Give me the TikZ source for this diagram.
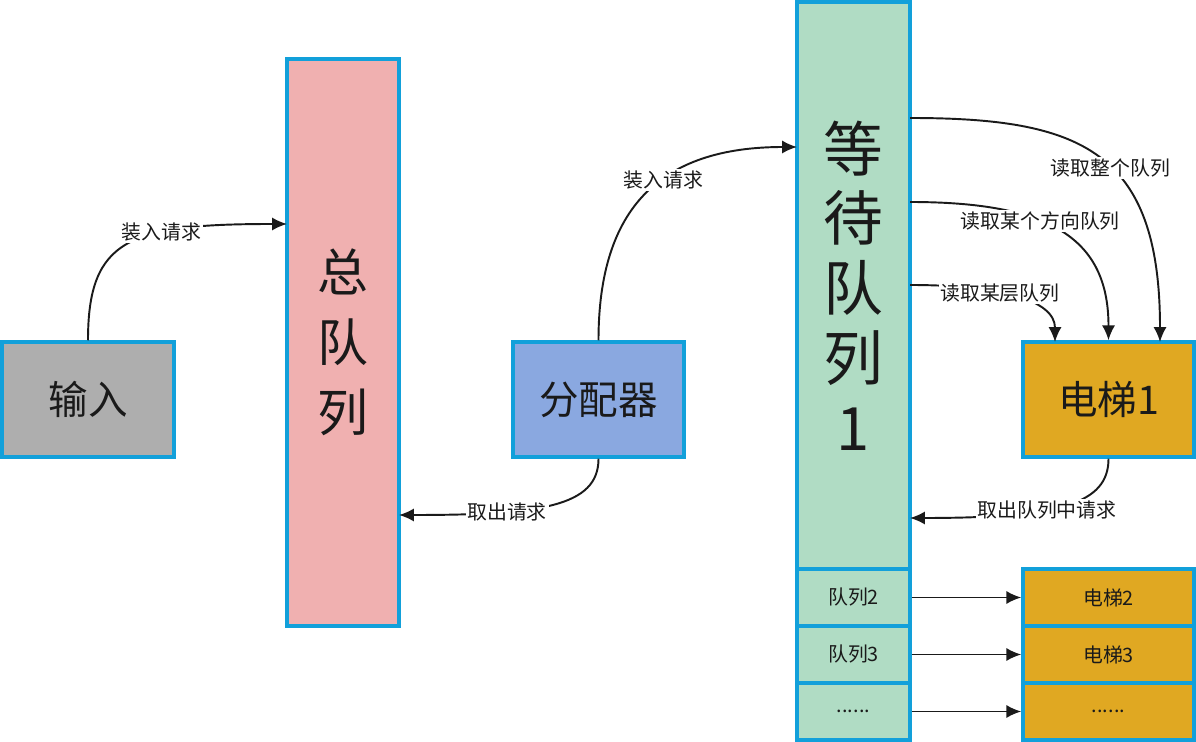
\documentclass[tikz,border=0pt]{standalone}
\usepackage{fontspec}
\setmainfont{Noto Sans CJK SC}
\usepackage{tikz}
\usetikzlibrary{arrows.meta}
\definecolor{rim}{HTML}{12A0DA}
\definecolor{ink}{HTML}{1A1A1A}
\definecolor{inputgray}{HTML}{AEAEAE}
\definecolor{totalpink}{HTML}{F0B0B0}
\definecolor{distblue}{HTML}{8AA8E0}
\definecolor{waitgreen}{HTML}{B0DCC4}
\definecolor{liftorange}{HTML}{E0A822}
\tikzstyle{box}=[draw=rim, line width=2pt, text=ink, inner sep=0pt]
\tikzstyle{midtext}=[font=\fontsize{22.5}{27}\selectfont]
\tikzstyle{smalltext}=[font=\fontsize{11.3}{13}\selectfont]
\tikzstyle{arr}=[-{Latex[length=8.5pt,width=7.5pt]}, line width=1.1pt, draw=ink]
\tikzstyle{lbl}=[fill=white, inner sep=1pt, text=ink, font=\fontsize{11.3}{13}\selectfont]

\begin{document}
\begin{tikzpicture}[x=0.02cm,y=-0.02cm]
        \useasboundingbox (0,0) rectangle (1196,742);
        % boxes
        \node[box, midtext, fill=inputgray, minimum width=3.44cm, minimum height=2.3cm] (input) at (88,399.5) {输入};
        \node[box, fill=totalpink, minimum width=2.24cm, minimum height=11.34cm, align=center,
            font=\fontsize{29}{39.7}\selectfont] (total) at (343,342.5) {总\\队\\列};
        \node[box, midtext, fill=distblue, minimum width=3.42cm, minimum height=2.3cm] (dist) at (598.5,399.5) {分配器};
        \node[box, fill=waitgreen, minimum width=2.26cm, minimum height=11.34cm, align=center,
            font=\fontsize{34}{39.7}\selectfont] (wait1) at (853.5,285.5) {等\\待\\队\\列\\1};
        \node[box, smalltext, fill=waitgreen, minimum width=2.26cm, minimum height=1.14cm] (wait2) at (853.5,597.5) {队列2};
        \node[box, smalltext, fill=waitgreen, minimum width=2.26cm, minimum height=1.14cm] (wait3) at (853.5,654.5) {队列3};
        \node[box, smalltext, fill=waitgreen, minimum width=2.26cm, minimum height=1.14cm] (wait4) at (853.5,711.5) {......};
        \node[box, midtext, fill=liftorange, minimum width=3.42cm, minimum height=2.3cm] (lift1) at (1108.5,399.5) {电梯1};
        \node[box, smalltext, fill=liftorange, minimum width=3.42cm, minimum height=1.14cm] (lift2) at (1108.5,597.5) {电梯2};
        \node[box, smalltext, fill=liftorange, minimum width=3.42cm, minimum height=1.14cm] (lift3) at (1108.5,654.5) {电梯3};
        \node[box, smalltext, fill=liftorange, minimum width=3.42cm, minimum height=1.14cm] (lift4) at (1108.5,711.5) {......};
        % attach points
        \coordinate (totalin) at (287,224);
        \coordinate (totalout) at (399,515);
        \coordinate (waitin) at (797,147);
        \coordinate (waitout) at (910,518);
        \coordinate (readall) at (910,118);
        \coordinate (readdir) at (910,202);
        \coordinate (readfloor) at (910,285);
        \coordinate (liftall) at (1160,342);
        \coordinate (liftfloor) at (1055,342);
        % connectors
        \draw[arr] (input.north) .. controls +(0,-102) and +(-157,0) .. (totalin) node[lbl, pos=0.65] {装入请求};
        \draw[arr] (dist.north) .. controls +(0,-132) and +(-137,0) .. (waitin) node[lbl, pos=0.58] {装入请求};
        \draw[arr] (dist.south) .. controls +(0,48) and +(141,0) .. (totalout) node[lbl, pos=0.69] {取出请求};
        \draw[arr] (lift1.south) .. controls +(0,45) and +(150,0) .. (waitout) node[lbl, pos=0.59] {取出队列中请求};
        \draw[arr] (readall) .. controls +(170,0) and +(0,-192) .. (liftall) node[lbl, pos=0.55] {读取整个队列};
        \draw[arr] (readdir) .. controls +(140,0) and +(0,-102) .. (lift1.north) node[lbl, pos=0.4] {读取某个方向队列};
        \draw[arr] (readfloor) .. controls +(90,0) and +(0,-42) .. (liftfloor) node[lbl, pos=0.4] {读取某层队列};
        \draw[arr] (wait2) -- (lift2);
        \draw[arr] (wait3) -- (lift3);
        \draw[arr] (wait4) -- (lift4);
    \end{tikzpicture}
\end{document}
